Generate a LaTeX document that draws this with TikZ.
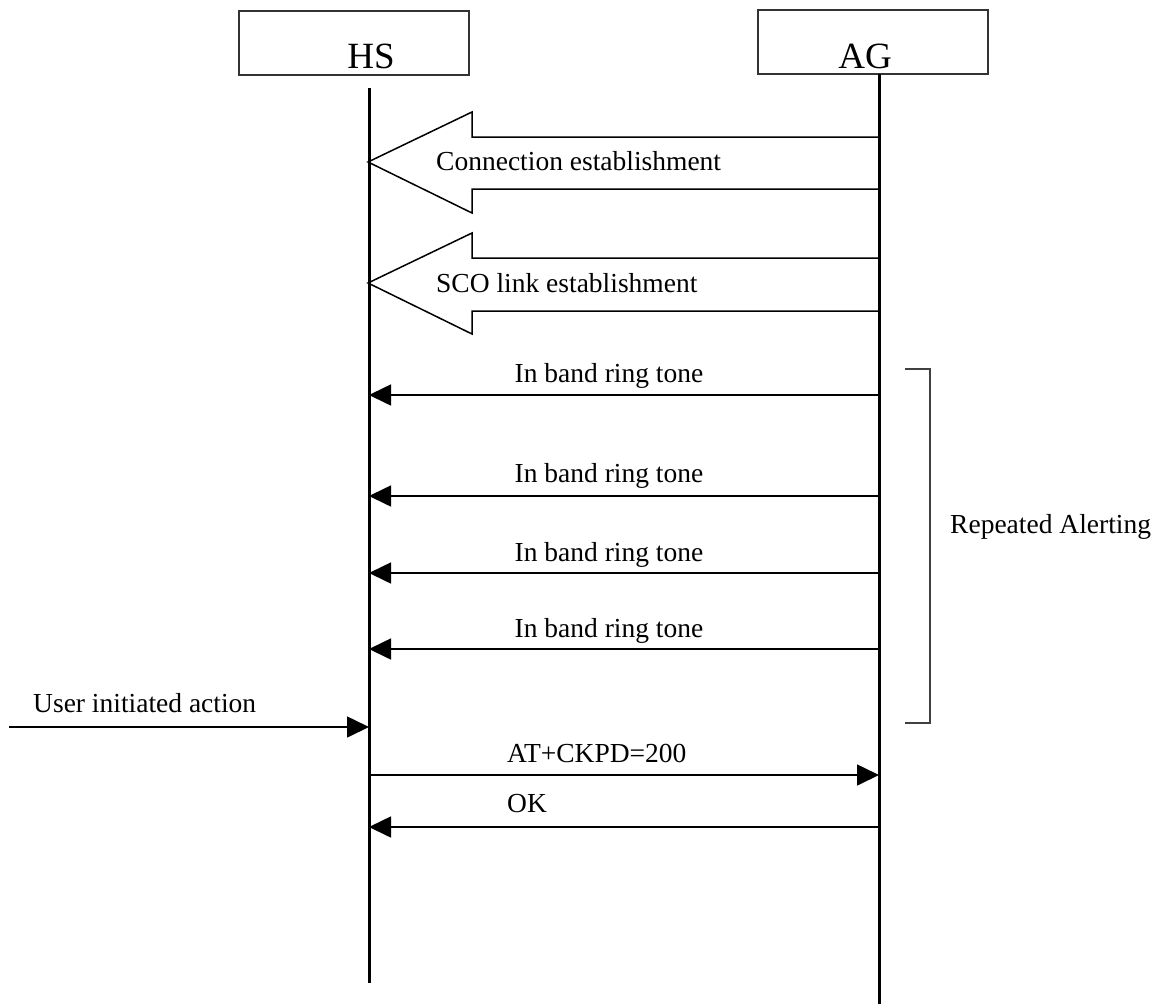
\documentclass[tikz,border=0pt]{standalone}
\usepackage{fontspec}
\setmainfont{Liberation Serif}
\usetikzlibrary{arrows.meta}
\tikzset{
  actor/.style={draw=black!80, line width=2pt, inner sep=0pt},
  lifeline/.style={line width=3pt, black},
  msg/.style={line width=1.6pt, -{Triangle[length=22pt,width=21pt]}},
  bigarrow/.style={draw=black, line width=1.5pt, fill=white, line join=miter},
  lbl/.style={font=\fontsize{27.5}{30}\selectfont, inner sep=0pt, anchor=base west},
  clbl/.style={font=\fontsize{27.5}{30}\selectfont, inner sep=0pt, anchor=base},
  bracket/.style={line width=1.8pt, black!75}
}
\begin{document}
\begin{tikzpicture}[x=1pt,y=-1pt]
\useasboundingbox (0,0) rectangle (1169,1004);
% actor boxes
\draw[actor] (239,11) rectangle (469,75);
\draw[actor] (758,10) rectangle (988,74);
\node[font=\fontsize{37}{40}\selectfont, inner sep=0pt, anchor=base] (hs) at (371,68) {HS};
\node[font=\fontsize{37}{40}\selectfont, inner sep=0pt, anchor=base] (ag) at (865,68) {AG};
% lifeline coordinates
\coordinate (hstop) at (369,88);
\coordinate (hsbot) at (369,983);
\coordinate (agtop) at (879,74);
\coordinate (agbot) at (879,1004);
% big arrows
\draw[bigarrow] (879,137) -- (472,137) -- (472,112) -- (368,162) -- (472,213) -- (472,189) -- (879,189);
\node[lbl] (conn) at (436,170) {Connection establishment};
\draw[bigarrow] (879,258) -- (472,258) -- (472,233) -- (368,283) -- (472,334) -- (472,311) -- (879,311);
\node[lbl] (sco) at (436,292) {SCO link establishment};
% lifelines
\draw[lifeline] (hstop) -- (hsbot);
\draw[lifeline] (agtop) -- (agbot);
% message endpoints
\foreach \n/\y in {1/395,2/496,3/573,4/649,5/775,6/827}{
  \coordinate (h\n) at (369,\y);
  \coordinate (a\n) at (879,\y);
}
\draw[msg] (a1) -- (h1);
\node[clbl] (t1) at (609,382) {In band ring tone};
\draw[msg] (a2) -- (h2);
\node[clbl] (t2) at (609,482) {In band ring tone};
\draw[msg] (a3) -- (h3);
\node[clbl] (t3) at (609,561) {In band ring tone};
\draw[msg] (a4) -- (h4);
\node[clbl] (t4) at (609,637) {In band ring tone};
% user action
\coordinate (user) at (9,727);
\coordinate (hu) at (369,727);
\draw[msg] (user) -- (hu);
\node[lbl] (tu) at (33,712) {User initiated action};
% AT command
\draw[msg] (h5) -- (a5);
\node[lbl] (t5) at (507,762) {AT+CKPD=200};
\draw[msg] (a6) -- (h6);
\node[lbl] (t6) at (507,812) {OK};
% bracket
\draw[bracket] (905,369) -- (930,369) -- (930,723) -- (905,723);
\node[lbl] (rep) at (950,533) {Repeated Alerting};
\end{tikzpicture}
\end{document}
